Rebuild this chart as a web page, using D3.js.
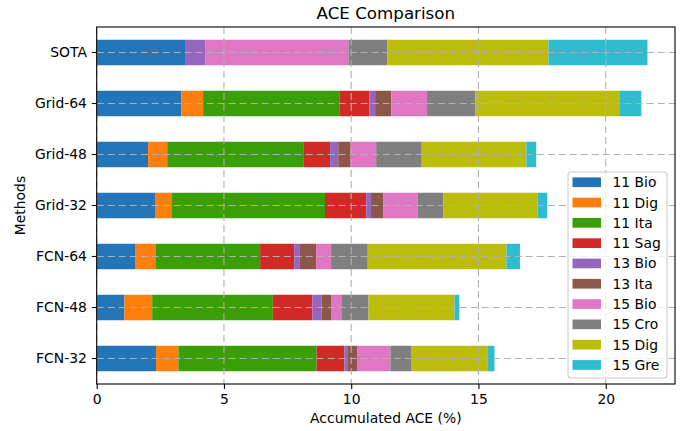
<!DOCTYPE HTML>
<html>
<head>
    <meta charset="UTF-8">
    <title>ACE Comparison</title>
    <script src="https://d3js.org/d3.v7.min.js"></script>
    <style type="text/css">
        body { margin: 0; background: white; }
        svg { font-family: "DejaVu Sans", sans-serif; }
    </style>
</head>
<body>
<div id="graph"></div>
<script type="text/javascript">

    // methods, bottom to top as in the original plot
    var methods = ["FCN-32", "FCN-48", "FCN-64", "Grid-32", "Grid-48", "Grid-64", "SOTA"];

    var seriesNames = ["11 Bio", "11 Dig", "11 Ita", "11 Sag", "13 Bio", "13 Ita", "15 Bio", "15 Cro", "15 Dig", "15 Gre"];

    var bio11 = [2.33, 1.09, 1.53, 2.29, 2.02, 3.33, 3.47];
    var dig11 = [0.88, 1.09, 0.80, 0.67, 0.75, 0.85, 0];
    var ita11 = [5.43, 4.74, 4.09, 6.01, 5.37, 5.35, 0];
    var sag11 = [1.09, 1.55, 1.34, 1.62, 1.03, 1.18, 0];
    var bio13 = [0.14, 0.37, 0.20, 0.19, 0.32, 0.23, 0.79];
    var ita13 = [0.38, 0.39, 0.66, 0.49, 0.49, 0.64, 0];
    var bio15 = [1.29, 0.38, 0.59, 1.34, 1.00, 1.40, 5.63];
    var cro15 = [0.81, 1.07, 1.44, 1.01, 1.79, 1.90, 1.53];
    var dig15 = [3.02, 3.38, 5.45, 3.70, 4.11, 5.68, 6.33];
    var gre15 = [0.26, 0.19, 0.53, 0.38, 0.39, 0.84, 3.89];

    var xTicks = [0, 5, 10, 15, 20];

    var seriesValues = [bio11, dig11, ita11, sag11, bio13, ita13, bio15, cro15, dig15, gre15];
    var colors = ["#2474b8", "#ff7f0e", "#3a9e06", "#d12a26", "#9467bd",
                  "#8c564b", "#e077c4", "#7f7f7f", "#bcbc0a", "#30bccf"];

    // one row per method for d3.stack
    var table = methods.map(function (m, i) {
        var row = { method: m };
        seriesNames.forEach(function (s, j) { row[s] = seriesValues[j][i]; });
        return row;
    });

    var width = 691, height = 431;
    var plotLeft = 96.7, plotRight = 675, plotTop = 27, plotBottom = 384;
    var fs = 13.9;

    var svg = d3.select("#graph").append("svg")
        .attr("width", width)
        .attr("height", height);

    var stacked = d3.stack().keys(seriesNames)(table);
    var maxTotal = d3.max(table, function (d) {
        return d3.sum(seriesNames, function (s) { return d[s]; });
    });

    var xscale = d3.scaleLinear()
        .domain([0, maxTotal * 1.05])
        .range([plotLeft, plotRight]);

    var yscale = d3.scaleBand()
        .domain(methods.slice().reverse())
        .range([plotTop, plotBottom])
        .paddingInner(0.5)
        .paddingOuter(0.25);

    // bars
    var layers = svg.append("g").selectAll("g")
        .data(stacked)
        .enter().append("g")
        .attr("fill", function (d, i) { return colors[i]; });

    layers.selectAll("rect")
        .data(function (d) { return d; })
        .enter().append("rect")
        .attr("x", function (d) { return xscale(d[0]); })
        .attr("y", function (d) { return yscale(d.data.method); })
        .attr("width", function (d) { return xscale(d[1]) - xscale(d[0]); })
        .attr("height", yscale.bandwidth());

    // grid drawn over bars, like in the original
    var grid = svg.append("g")
        .attr("stroke", "#b0b0b0")
        .attr("stroke-width", 1.1)
        .attr("stroke-dasharray", "7,4");

    grid.selectAll("line.v")
        .data(xTicks)
        .enter().append("line")
        .attr("class", "v")
        .attr("x1", function (d) { return xscale(d); })
        .attr("x2", function (d) { return xscale(d); })
        .attr("y1", plotTop)
        .attr("y2", plotBottom);

    grid.selectAll("line.h")
        .data(methods)
        .enter().append("line")
        .attr("class", "h")
        .attr("x1", plotLeft)
        .attr("x2", plotRight)
        .attr("y1", function (d) { return yscale(d) + yscale.bandwidth() / 2; })
        .attr("y2", function (d) { return yscale(d) + yscale.bandwidth() / 2; });

    // axes
    var xAxis = svg.append("g")
        .attr("transform", "translate(0," + plotBottom + ")")
        .call(d3.axisBottom(xscale).tickValues(xTicks).tickSize(4.9).tickPadding(4.9).tickSizeOuter(0));

    var yAxis = svg.append("g")
        .attr("transform", "translate(" + plotLeft + ",0)")
        .call(d3.axisLeft(yscale).tickSize(4.9).tickPadding(4.9).tickSizeOuter(0));

    [xAxis, yAxis].forEach(function (a) {
        a.select(".domain").remove();
        a.selectAll("text")
            .attr("font-family", "DejaVu Sans")
            .attr("font-size", fs)
            .attr("fill", "#000");
        a.selectAll("line").attr("stroke", "#000").attr("stroke-width", 1.1);
    });

    // frame
    svg.append("rect")
        .attr("x", plotLeft)
        .attr("y", plotTop)
        .attr("width", plotRight - plotLeft)
        .attr("height", plotBottom - plotTop)
        .attr("fill", "none")
        .attr("stroke", "#000")
        .attr("stroke-width", 1.1);

    // title and labels
    svg.append("text")
        .attr("x", (plotLeft + plotRight) / 2)
        .attr("y", 18.5)
        .attr("text-anchor", "middle")
        .attr("font-size", 16.7)
        .text("ACE Comparison");

    svg.append("text")
        .attr("x", (plotLeft + plotRight) / 2)
        .attr("y", 423)
        .attr("text-anchor", "middle")
        .attr("font-size", fs)
        .text("Accumulated ACE (%)");

    svg.append("text")
        .attr("transform", "translate(25," + (plotTop + plotBottom) / 2 + ") rotate(-90)")
        .attr("text-anchor", "middle")
        .attr("font-size", fs)
        .text("Methods");

    // legend
    var legend = svg.append("g");
    legend.append("rect")
        .attr("x", 568)
        .attr("y", 172)
        .attr("width", 99)
        .attr("height", 206)
        .attr("rx", 3)
        .attr("fill", "white")
        .attr("fill-opacity", 0.8)
        .attr("stroke", "#cccccc")
        .attr("stroke-width", 1.1);

    var items = legend.selectAll("g.item")
        .data(seriesNames)
        .enter().append("g")
        .attr("class", "item")
        .attr("transform", function (d, i) { return "translate(0," + (182.3 + i * 20.3) + ")"; });

    items.append("rect")
        .attr("x", 572.5)
        .attr("y", -4.9)
        .attr("width", 28.5)
        .attr("height", 9.7)
        .attr("fill", function (d, i) { return colors[i]; });

    items.append("text")
        .attr("x", 612.5)
        .attr("y", 4.9)
        .attr("font-size", fs)
        .text(function (d) { return d; });

</script>
</body>
</html>
